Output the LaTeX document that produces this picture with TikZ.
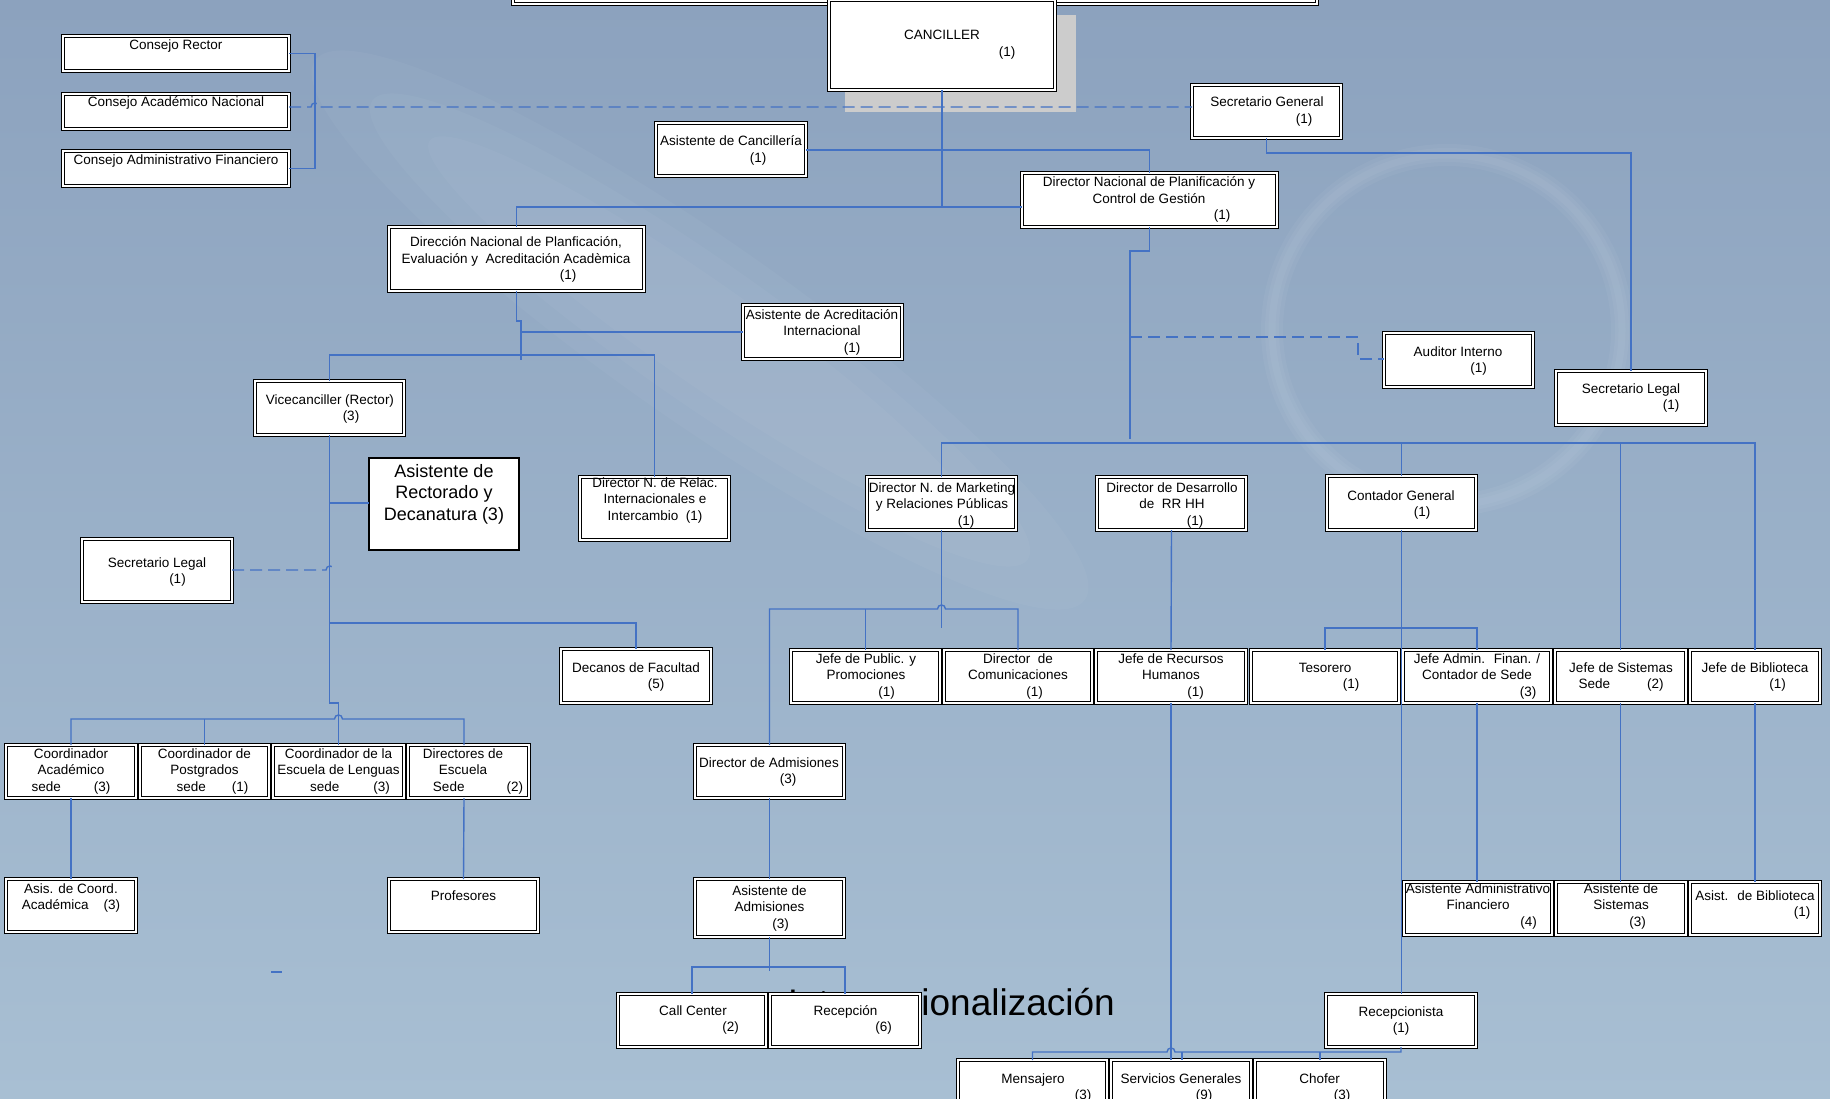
\documentclass[tikz,border=0pt]{standalone}
\usepackage{fontspec}
\setmainfont{Liberation Sans}
\usetikzlibrary{fit}
\definecolor{conn}{RGB}{68,114,196}
\definecolor{bgtop}{RGB}{140,162,190}
\definecolor{bgbot}{RGB}{168,191,211}
\definecolor{shadowgrey}{RGB}{204,204,204}
\newcommand{\mybox}[6][box]{\node[#1, fit={(#3+2,#4+2)(#5-2,#6-2)}] (#2) {};}
\newcommand{\mytext}[5][txt]{\node[#1] (#2) at (#3,#4) {\begin{tabular}[t]{@{}c@{}}#5\end{tabular}};}
\newcommand{\rp}[2]{\hspace*{#1pt}#2}
\renewcommand{\arraystretch}{1}
\begin{document}
\begin{tikzpicture}[x=1pt,y=-1pt,
 box/.style={draw=black, line width=1.1pt, double=white, double distance=1.1pt, fill=white, inner sep=0pt, outer sep=0pt},
 sbox/.style={draw=black, line width=1.1pt, fill=white, inner sep=0pt, outer sep=0pt},
 txt/.style={anchor=base, inner sep=0pt, font=\fontsize{13.5}{16.5}\selectfont},
 bigtxt/.style={anchor=base, inner sep=0pt, font=\fontsize{18}{21.5}\selectfont},
 ln/.style={draw=conn, line width=1.4pt},
 dln/.style={ln, dash pattern=on 12pt off 6pt}]
\useasboundingbox (0,0) rectangle (1830,1099);
\clip (0,0) rectangle (1830,1099);
% background
\shade[top color=bgtop, bottom color=bgbot] (0,0) rectangle (1830,1099);
\foreach \r/\s in {470/90, 400/70, 330/50}
  \fill[white, opacity=0.035, rotate around={-35:(700,330)}] (700,330) ellipse [x radius=\r pt, y radius=\s pt];
\foreach \w in {22,14,7}
  \draw[white, opacity=0.04, line width=\w pt] (1447,330) circle [radius=175pt];
\fill[shadowgrey] (845,15) rectangle (1076,112);
\node[anchor=base east, inner sep=0pt, font=\fontsize{37}{40}\selectfont] (intl) at (1115,1015) {Internacionalización};
% boxes
\mybox{topb}{511}{-40}{1319}{6}
\mybox{canc}{827}{-2}{1057}{92}
\mybox{crector}{61}{34}{291}{73}
\mybox{cacad}{61}{92}{291}{131}
\mybox{cadmin}{61}{149}{291}{188}
\mybox{secgen}{1190}{83}{1343}{140}
\mybox{asiscanc}{654}{121}{808}{178}
\mybox{dnpcg}{1020}{171}{1279}{229}
\mybox{dnpe}{387}{225}{646}{293}
\mybox{asisacred}{741}{303}{904}{361}
\mybox{auditor}{1382}{331}{1535}{389}
\mybox{seclegR}{1554}{369}{1708}{427}
\mybox{vice}{253}{379}{406}{437}
\mybox[sbox]{asisrect}{367}{456}{521}{552}
\mybox{relac}{578}{475}{731}{542}
\mybox{mkt}{865}{475}{1018}{532}
\mybox{desa}{1095}{475}{1248}{532}
\mybox{contador}{1325}{474}{1478}{532}
\mybox{seclegL}{80}{537}{234}{604}
\mybox{decanos}{559}{647}{713}{705}
\mybox{jpub}{789}{648}{942}{705}
\mybox{dcom}{942}{648}{1094}{705}
\mybox{jrrhh}{1094}{648}{1248}{705}
\mybox{teso}{1249}{648}{1401}{705}
\mybox{jadm}{1401}{648}{1553}{705}
\mybox{jsis}{1553}{648}{1688}{705}
\mybox{jbib}{1688}{648}{1822}{705}
\mybox{cacs}{4}{743}{138}{800}
\mybox{cpost}{138}{743}{271}{800}
\mybox{clen}{271}{743}{406}{800}
\mybox{dirEsc}{406}{743}{531}{800}
\mybox{dadm}{693}{743}{846}{800}
\mybox{asiscoord}{4}{877}{138}{934}
\mybox{prof}{387}{877}{540}{934}
\mybox{asisadm}{693}{877}{846}{939}
\mybox{aadmfin}{1402}{880}{1554}{937}
\mybox{asissis}{1554}{880}{1688}{937}
\mybox{asisbib}{1688}{880}{1822}{937}
\mybox{call}{616}{992}{768}{1049}
\mybox{recep}{768}{992}{922}{1049}
\mybox{recepc}{1324}{992}{1478}{1049}
\mybox{mens}{956}{1058}{1109}{1130}
\mybox{serv}{1109}{1058}{1253}{1130}
\mybox{chof}{1253}{1058}{1387}{1130}
% connectors
\draw[ln] (crector.east) -- ++(26,0) |- (cadmin.east);
\draw[dln] (cacad.east |- 0,107) -- (311,107) .. controls (311,101.7) and (319,101.7) .. (319,107) -- (secgen.west |- 0,107);
\draw[ln] (canc.south) -- (canc.south |- 0,207);
\draw[ln] (dnpe.north) |- (dnpcg.west |- 0,207);
\draw[ln] (asiscanc.east |- 0,150) -| (dnpcg.north);
\draw[ln] (secgen.south) -- ++(0,15) -| (seclegR.north);
\draw[ln] (dnpcg.south) -- ++(0,24) -| (1130,439);
\draw[dln] (1130,337) -| (1358,359) -- (auditor.west |- 0,359);
\draw[ln] (mkt.north) |- (jbib.north |- 0,443) -- (jbib.north);
\draw[ln] (contador.north |- 0,443) -- (contador.north);
\draw[ln] (jsis.north |- 0,443) -- (jsis.north);
\draw[ln] (dnpe.south) -- (516.5,321) -- (521,321) -- (521,360);
\draw[ln] (521,332) -- (asisacred.west |- 0,332);
\draw[ln] (vice.north) |- (relac.north |- 0,355) -- (relac.north);
\draw[ln] (vice.south) |- (clen.north |- 0,703) -- (clen.north);
\draw[ln] (330,503) -- (asisrect.west |- 0,503);
\draw[dln] (seclegL.east |- 0,570) -- (326,570) .. controls (326,564.7) and (334,564.7) .. (334,570);
\draw[ln] (330,623) -| (decanos.north);
\draw[ln] (cacs.north) |- (334.5,719) .. controls (334.5,713.7) and (342.5,713.7) .. (342.5,719) -| (dirEsc.north -| 464,0);
\draw[ln] (cpost.north) -- (cpost.north |- 0,719);
\draw[ln] (cacs.south) -- (asiscoord.north);
\draw[ln] (dirEsc.south -| 464,0) -- (prof.north);
\draw[ln] (mkt.south) -- (941.5,628);
\draw[ln] (dadm.north) |- (937.5,609) .. controls (937.5,603.7) and (945.5,603.7) .. (945.5,609) -| (dcom.north);
\draw[ln] (jpub.north) -- (jpub.north |- 0,609);
\draw[ln] (desa.south) -- (jrrhh.north);
\draw[ln] (contador.south) -- (contador.south |- recepc.north);
\draw[ln] (teso.north) |- (jadm.north |- 0,628) -- (jadm.north);
\draw[ln] (jadm.south) -- (jadm.south |- aadmfin.north);
\draw[ln] (jsis.south) -- (jsis.south |- asissis.north);
\draw[ln] (jbib.south) -- (jbib.south |- asisbib.north);
\draw[ln] (dadm.south) -- (asisadm.north);
\draw[ln] (asisadm.south) -- ++(0,34);
\draw[ln] (call.north) |- (recep.north |- 0,967) -- (recep.north);
\draw[ln] (jrrhh.south) -- (jrrhh.south |- serv.north);
\draw[ln] (recepc.south) |- (1175,1052) .. controls (1175,1046.7) and (1167,1046.7) .. (1167,1052) -| (mens.north);
\draw[ln] (1182,1052) -- (serv.north -| 1182,0);
\draw[ln] (chof.north) -- (chof.north |- 0,1052);
\draw[ln] (271,972) -- (282,972);
% texts
\mytext{t-canc}{942}{40}{CANCILLER\\\rp{130}{(1)}}
\mytext{t-crector}{176}{50}{Consejo Rector}
\mytext{t-cacad}{176}{107}{Consejo Académico Nacional}
\mytext{t-cadmin}{176}{165}{Consejo Administrativo Financiero}
\mytext{t-secgen}{1267}{107}{Secretario General\\\rp{74}{(1)}}
\mytext{t-asiscanc}{731}{146}{Asistente de Cancillería\\\rp{54}{(1)}}
\mytext{t-dnpcg}{1149}{187}{Director Nacional de Planificación y\\Control de Gestión\\\rp{146}{(1)}}
\mytext{t-dnpe}{516}{247}{Dirección Nacional de Planficación,\\Evaluación y~ Acreditación Acadèmica\\\rp{104}{(1)}}
\mytext{t-asisacred}{822}{319}{Asistente de Acreditación\\Internacional\\\rp{60}{(1)}}
\mytext{t-auditor}{1458}{356}{Auditor Interno\\\rp{41}{(1)}}
\mytext{t-seclegR}{1631}{393}{Secretario Legal\\\rp{80}{(1)}}
\mytext{t-vice}{330}{404}{Vicecanciller (Rector)\\\rp{42}{(3)}}
\mytext[bigtxt]{t-asisrect}{444}{477}{Asistente de\\Rectorado y\\Decanatura (3)}
\mytext{t-relac}{655}{487}{Director N. de Relac.\\Internacionales e\\Intercambio~ (1)}
\mytext{t-mkt}{942}{492}{Director N. de Marketing\\y Relaciones Públicas\\\rp{48}{(1)}}
\mytext{t-desa}{1172}{492}{Director de Desarrollo\\de~ RR HH\\\rp{46}{(1)}}
\mytext{t-contador}{1401}{500}{Contador General\\\rp{42}{(1)}}
\mytext{t-seclegL}{157}{567}{Secretario Legal\\\rp{41}{(1)}}
\mytext{t-decanos}{636}{672}{Decanos de Facultad\\\rp{40}{(5)}}
\mytext{t-jpub}{866}{663}{Jefe de Public. y\\Promociones\\\rp{41}{(1)}}
\mytext{t-dcom}{1018}{663}{Director~ de\\Comunicaciones\\\rp{33}{(1)}}
\mytext{t-jrrhh}{1171}{663}{Jefe de Recursos\\Humanos\\\rp{49}{(1)}}
\mytext{t-teso}{1325}{672}{Tesorero\\\rp{52}{(1)}}
\mytext{t-jadm}{1477}{663}{Jefe Admin.~ Finan. /\\Contador de Sede\\\rp{102}{(3)}}
\mytext{t-jsis}{1621}{672}{Jefe de Sistemas\\Sede\hspace{37pt}(2)}
\mytext{t-jbib}{1755}{672}{Jefe de Biblioteca\\\rp{45}{(1)}}
\mytext{t-cacs}{71}{758}{Coordinador\\Académico\\sede\hspace{33pt}(3)}
\mytext{t-cpost}{204.5}{758}{Coordinador de\\Postgrados\\\hspace*{16pt}sede\hspace{26pt}(1)}
\mytext{t-clen}{338.5}{758}{Coordinador de la\\Escuela de Lenguas\\\hspace*{23pt}sede\hspace{34pt}(3)}
\mytext{t-dirEsc}{463}{758}{Directores de\\Escuela\\\hspace*{30pt}Sede\hspace{42pt}(2)}
\mytext{t-dadm}{769}{767}{Director de Admisiones\\\rp{38}{(3)}}
\mytext{t-asiscoord}{71}{893}{Asis. de Coord.\\Académica\hspace{15pt}(3)}
\mytext{t-prof}{463.5}{900}{Profesores}
\mytext{t-asisadm}{769.5}{895}{Asistente de\\Admisiones\\\rp{22}{(3)}}
\mytext{t-aadmfin}{1478}{893}{Asistente Administrativo\\Financiero\\\rp{101}{(4)}}
\mytext{t-asissis}{1621}{893}{Asistente de\\Sistemas\\\rp{33}{(3)}}
\mytext{t-asisbib}{1755}{900}{Asist.~ de Biblioteca\\\rp{94}{(1)}}
\mytext{t-call}{693}{1015}{Call Center\\\rp{75}{(2)}}
\mytext{t-recep}{845.5}{1015}{Recepción\\\rp{76}{(6)}}
\mytext{t-recepc}{1401}{1016}{Recepcionista\\(1)}
\mytext{t-mens}{1033}{1083}{Mensajero\\\rp{100}{(3)}}
\mytext{t-serv}{1181}{1083}{Servicios Generales\\\rp{46}{(9)}}
\mytext{t-chof}{1319.5}{1083}{Chofer\\\rp{45}{(3)}}
\end{tikzpicture}
\end{document}
